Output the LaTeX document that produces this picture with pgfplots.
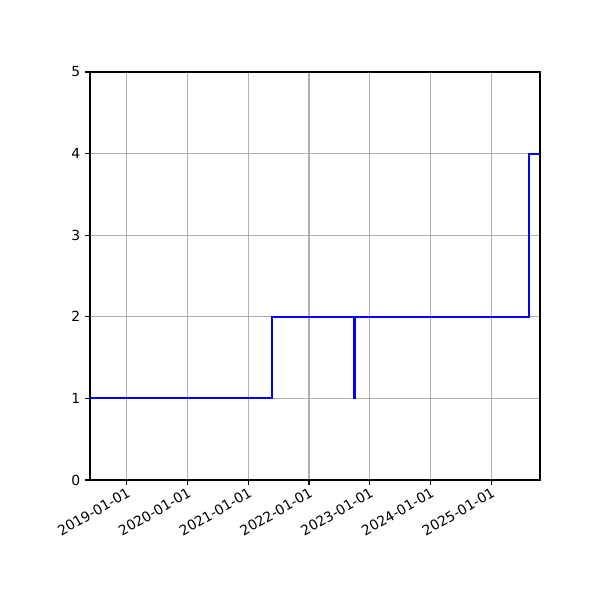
\documentclass[border=0pt]{standalone}
\usepackage{fontspec}
\setmainfont{DejaVu Sans}
\usepackage{pgfplots}
\pgfplotsset{compat=1.18}
\definecolor{gridgray}{HTML}{B0B0B0}
\begin{document}
\begin{tikzpicture}
\begin{axis}[
  name=ax,
  scale only axis,
  width=324pt, height=293.76pt,
  xmin=2018.396, xmax=2025.801,
  ymin=0, ymax=5,
  xtick={2019,2020,2021,2022,2023,2024,2025},
  xticklabels={2019-01-01,2020-01-01,2021-01-01,2022-01-01,2023-01-01,2024-01-01,2025-01-01},
  ytick={0,1,2,3,4,5},
  x tick label style={rotate=30, anchor=north east, inner sep=1pt, font=\fontsize{10}{12}\selectfont},
  y tick label style={font=\fontsize{10}{12}\selectfont},
  /pgf/number format/assume math mode=true,
  grid=major,
  major grid style={gridgray, line width=0.8pt},
  axis line style={black, line width=0.8pt},
  tick style={black, line width=0.8pt},
  tick align=outside,
  major tick length=3.5pt,
  xtick pos=bottom, ytick pos=left,
  axis on top=false,
]
\addplot[const plot mark left, blue, line width=1.5pt] coordinates {
  (2018.396,1)
  (2021.386,2)
  (2022.745,1)
  (2022.748,2)
  (2025.622,3)
  (2025.625,4)
  (2025.801,4)
};
\end{axis}
\pgfresetboundingbox
\path[use as bounding box] ([shift={(-64.8pt,-86.4pt)}]ax.south west) rectangle ([shift={(43.2pt,51.84pt)}]ax.north east);
\end{tikzpicture}
\end{document}
